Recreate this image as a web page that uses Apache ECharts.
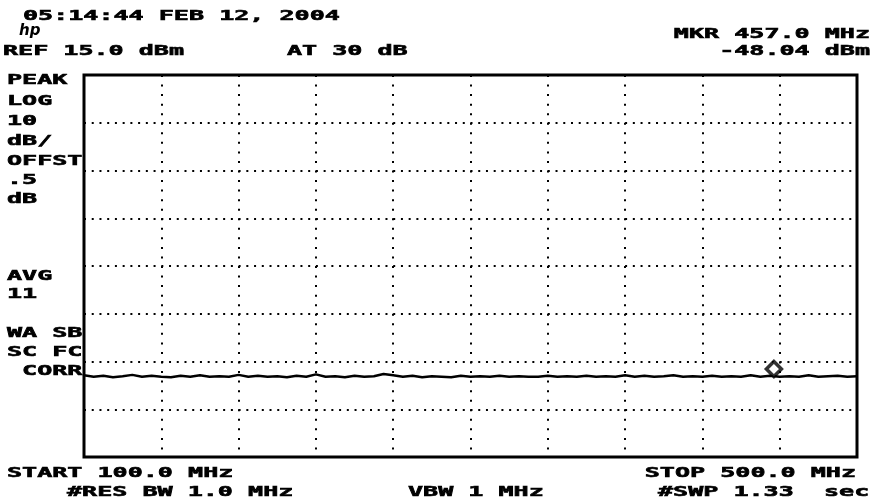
<!DOCTYPE html>
<html>
<head>
<meta charset="utf-8">
<script src="https://cdn.jsdelivr.net/npm/echarts@6/dist/echarts.min.js"></script>
<style>
  html, body { margin: 0; padding: 0; background: #fff; }
  #main { width: 876px; height: 504px; }
</style>
</head>
<body>
<div id="main"></div>
<script>
// sweep settings
const startFreq = 100.0;
const stopFreq = 500.0;
const refLevel = 15.0;
const bottomLevel = -65.0;

// trace samples (MHz / dBm)
const traceFreqs = [
  100, 105, 110, 115, 120, 125, 130, 135, 140, 145,
  150, 155, 160, 165, 170, 175, 180, 185, 190, 195,
  200, 205, 210, 215, 220, 225, 230, 235, 240, 245,
  250, 255, 260, 265, 270, 275, 280, 285, 290, 295,
  300, 305, 310, 315, 320, 325, 330, 335, 340, 345,
  350, 355, 360, 365, 370, 375, 380, 385, 390, 395,
  400, 405, 410, 415, 420, 425, 430, 435, 440, 445,
  450, 455, 460, 465, 470, 475, 480, 485, 490, 495,
  500
];
const traceLevels = [
  -47.9, -48.2, -48.0, -48.3, -48.1, -47.8, -48.2, -48.0, -48.2, -48.3,
  -48.0, -48.2, -47.9, -48.2, -48.1, -48.2, -47.8, -48.2, -48.0, -48.2,
  -48.1, -48.3, -48.0, -48.2, -47.7, -48.2, -48.1, -48.3, -48.0, -48.2,
  -48.1, -47.6, -47.9, -48.2, -48.0, -48.3, -48.1, -48.2, -48.3, -48.0,
  -48.2, -48.1, -48.2, -48.0, -48.2, -48.1, -48.2, -48.2, -48.0, -48.2,
  -48.1, -48.2, -48.0, -48.2, -48.1, -48.2, -47.9, -48.2, -48.0, -48.2,
  -48.1, -47.9, -48.2, -48.1, -48.2, -48.0, -48.2, -48.1, -48.2, -47.9,
  -48.2, -48.0, -48.2, -48.1, -48.2, -47.9, -48.2, -48.1, -48.0, -48.2,
  -48.1
];

const markerFreq = 457.0;
const markerLevel = -48.04;

// screen annotations
const headerLines = ['05:14:44 FEB 12, 2004', 'REF 15.0 dBm', 'AT 30 dB'];
const markerLines = ['MKR 457.0 MHz', '-48.04 dBm'];
const sideLabels = ['PEAK', 'LOG', '10', 'dB/', 'OFFST', '.5', 'dB', 'AVG', '11', 'WA SB', 'SC FC', ' CORR'];
const footerLines = ['START 100.0 MHz', '#RES BW 1.0 MHz', 'VBW 1 MHz', 'STOP 500.0 MHz', '#SWP 1.33  sec'];

const chart = echarts.init(document.getElementById('main'));

const FONT = 'bold 14px "DejaVu Sans Mono"';
const STRETCH = 1.79; // the analyzer font is much wider than any mono font we have

function label(text, x, y, align) {
  return {
    type: 'text',
    x: x,
    y: y,
    scaleX: STRETCH,
    style: {
      text: text,
      font: FONT,
      fill: '#000',
      stroke: '#000',
      lineWidth: 0.6,
      textAlign: align || 'left',
      textVerticalAlign: 'middle'
    }
  };
}

const sideY = [80, 101, 121, 141, 161, 180, 199, 276, 294, 333, 352, 371];

const graphics = [
  label(headerLines[0], 23, 16),
  label(headerLines[1], 3, 51),
  label(headerLines[2], 287, 51),
  label(markerLines[0], 870, 34, 'right'),
  label(markerLines[1], 870, 51, 'right'),
  label(footerLines[0], 7, 473),
  label(footerLines[1], 67, 492),
  label(footerLines[2], 408, 492),
  label(footerLines[3], 856, 473, 'right'),
  label(footerLines[4], 658, 492),
  {
    type: 'text',
    x: 19,
    y: 31,
    style: {
      text: 'hp',
      font: 'italic bold 15px "DejaVu Sans"',
      fill: '#000',
      textVerticalAlign: 'middle'
    }
  }
];
sideLabels.forEach((t, i) => graphics.push(label(t, 7, sideY[i])));

const dotted = (gap) => ({
  show: true,
  lineStyle: { color: '#000', width: 2, type: [2, gap] }
});

const option = {
  animation: false,
  backgroundColor: '#fff',
  grid: {
    left: 84,
    top: 75,
    width: 773,
    height: 382,
    show: true,
    borderColor: '#000',
    borderWidth: 3,
    backgroundColor: '#fff'
  },
  xAxis: [
    { type: 'value', min: startFreq, max: stopFreq, show: false },
    {
      type: 'value', min: 0, max: 10, interval: 1,
      axisLine: { show: false }, axisTick: { show: false }, axisLabel: { show: false },
      splitLine: dotted(7.55)
    }
  ],
  yAxis: [
    { type: 'value', min: bottomLevel, max: refLevel, show: false },
    {
      type: 'value', min: 0, max: 8, interval: 1,
      axisLine: { show: false }, axisTick: { show: false }, axisLabel: { show: false },
      splitLine: dotted(5.73)
    }
  ],
  graphic: graphics,
  series: [
    {
      type: 'line',
      xAxisIndex: 0,
      yAxisIndex: 0,
      data: traceFreqs.map((f, i) => [f, traceLevels[i]]),
      showSymbol: false,
      lineStyle: { color: '#000', width: 2.5 },
      z: 3
    },
    {
      type: 'scatter',
      xAxisIndex: 0,
      yAxisIndex: 0,
      data: [[markerFreq, markerLevel]],
      symbol: 'diamond',
      symbolSize: [15, 15],
      symbolOffset: [0, -7],
      itemStyle: { color: '#fff', borderColor: '#000', borderWidth: 3.5 },
      z: 4
    }
  ]
};

chart.setOption(option);
</script>
</body>
</html>
